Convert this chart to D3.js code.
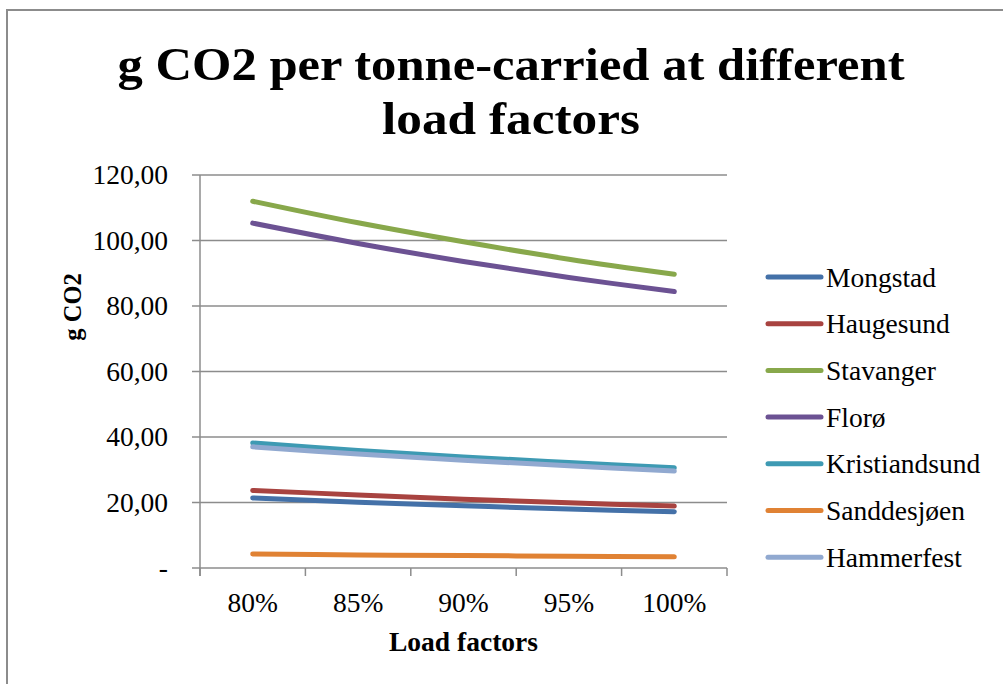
<!DOCTYPE html>
<html>
<head>
<meta charset="utf-8">
<script src="https://cdn.jsdelivr.net/npm/d3@7"></script>
<style>
  body { margin: 0; background: #fff; }
  svg { display: block; }
  text { font-family: 'Liberation Serif', 'DejaVu Serif', serif; fill: #000; }
</style>
</head>
<body>
<div id="chart"></div>
<script>
// chart data
const categories = ['80%', '85%', '90%', '95%', '100%']
const seriesNames = ['Mongstad', 'Haugesund', 'Stavanger', 'Florø', 'Kristiandsund', 'Sanddesjøen', 'Hammerfest']
const mongstad = [21.4, 20.1, 19.0, 18.0, 17.2]
const haugesund = [23.7, 22.3, 21.0, 19.9, 18.9]
const stavanger = [112.0, 105.4, 99.6, 94.3, 89.7]
const floro = [105.3, 99.1, 93.6, 88.7, 84.4]
const kristiandsund = [38.2, 35.9, 33.9, 32.2, 30.6]
const sanddesjoen = [4.3, 4.0, 3.8, 3.6, 3.4]
const hammerfest = [37.0, 34.8, 32.9, 31.2, 29.6]
const yTicks = [0, 20, 40, 60, 80, 100, 120]
const titleLines = ['g CO2 per tonne-carried at different', 'load factors']
const colors = ['#4471a8', '#a84340', '#88a84b', '#6c5293', '#3e9ab3', '#e08234', '#91a9d0']

const series = [mongstad, haugesund, stavanger, floro, kristiandsund, sanddesjoen, hammerfest]
  .map((values, i) => ({ name: seriesNames[i], values, color: colors[i] }))

const width = 1003
const height = 684
const margin = { top: 175, left: 200, right: 276, bottom: 116 }
const plotW = width - margin.left - margin.right
const plotH = height - margin.top - margin.bottom

const svg = d3.select('#chart')
  .append('svg')
  .attr('width', width)
  .attr('height', height)

// outer chart frame (runs off the right and bottom edges)
svg.append('rect')
  .attr('x', 7)
  .attr('y', 10)
  .attr('width', 1010)
  .attr('height', 700)
  .attr('fill', 'none')
  .attr('stroke', '#8c8c8c')
  .attr('stroke-width', 2)

// title, stretched to the width of the original
const titleLen = [787, 258]
svg.append('g')
  .selectAll('text')
  .data(titleLines)
  .enter()
  .append('text')
  .attr('x', 511)
  .attr('y', (d, i) => 80 + i * 54)
  .attr('text-anchor', 'middle')
  .attr('font-weight', 'bold')
  .attr('font-size', 46)
  .attr('textLength', (d, i) => titleLen[i])
  .attr('lengthAdjust', 'spacingAndGlyphs')
  .text((d) => d)

const x = d3.scaleBand().domain(categories).range([0, plotW])
const y = d3.scaleLinear().domain([0, 120]).range([plotH, 0])

const g = svg.append('g')
  .attr('transform', `translate(${margin.left},${margin.top})`)

// gridlines
g.append('g')
  .selectAll('line')
  .data(yTicks)
  .enter()
  .append('line')
  .attr('x1', -8)
  .attr('x2', plotW)
  .attr('y1', (d) => y(d))
  .attr('y2', (d) => y(d))
  .attr('stroke', '#8c8c8c')
  .attr('stroke-width', 1.5)

// y axis
const yAxis = g.append('g')
  .call(d3.axisLeft(y).tickValues(yTicks).tickSize(0).tickPadding(32)
    .tickFormat((d) => d === 0 ? '-' : d3.format('.2f')(d).replace('.', ',')))
yAxis.select('.domain').remove()
yAxis.selectAll('text')
  .attr('font-family', "'Liberation Serif', serif")
  .attr('font-size', 27.5)
  .attr('fill', '#000')

g.append('line')
  .attr('x1', 0).attr('x2', 0)
  .attr('y1', 0).attr('y2', plotH + 8)
  .attr('stroke', '#8c8c8c')
  .attr('stroke-width', 1.5)

// x axis ticks at band edges
const edges = categories.map((c) => x(c)).concat([plotW])
g.append('g')
  .selectAll('line')
  .data(edges)
  .enter()
  .append('line')
  .attr('x1', (d) => d).attr('x2', (d) => d)
  .attr('y1', plotH).attr('y2', plotH + 8)
  .attr('stroke', '#8c8c8c')
  .attr('stroke-width', 1.5)

g.append('g')
  .selectAll('text')
  .data(categories)
  .enter()
  .append('text')
  .attr('x', (d) => x(d) + x.bandwidth() / 2)
  .attr('y', plotH + 44)
  .attr('text-anchor', 'middle')
  .attr('font-size', 27.5)
  .text((d) => d)

// axis titles
svg.append('text')
  .attr('x', margin.left + plotW / 2)
  .attr('y', 651)
  .attr('text-anchor', 'middle')
  .attr('font-weight', 'bold')
  .attr('font-size', 27.5)
  .text('Load factors')

svg.append('text')
  .attr('transform', 'translate(81,307) rotate(-90)')
  .attr('text-anchor', 'middle')
  .attr('font-weight', 'bold')
  .attr('font-size', 24.5)
  .text('g CO2')

// lines
const line = d3.line()
  .curve(d3.curveCatmullRom)
  .x((d, i) => x(categories[i]) + x.bandwidth() / 2)
  .y((d) => y(d))

g.append('g')
  .selectAll('path')
  .data(series)
  .enter()
  .append('path')
  .attr('d', (d) => line(d.values))
  .attr('fill', 'none')
  .attr('stroke', (d) => d.color)
  .attr('stroke-width', 5)
  .attr('stroke-linecap', 'round')
  .attr('stroke-linejoin', 'round')

// legend
const legend = svg.append('g')
  .selectAll('g')
  .data(series)
  .enter()
  .append('g')
  .attr('transform', (d, i) => `translate(768,${277 + i * 46.7})`)

legend.append('line')
  .attr('x1', 0).attr('x2', 53)
  .attr('stroke', (d) => d.color)
  .attr('stroke-width', 5)
  .attr('stroke-linecap', 'round')

legend.append('text')
  .attr('x', 58)
  .attr('dy', '0.35em')
  .attr('font-size', 27.5)
  .text((d) => d.name)
</script>
</body>
</html>
